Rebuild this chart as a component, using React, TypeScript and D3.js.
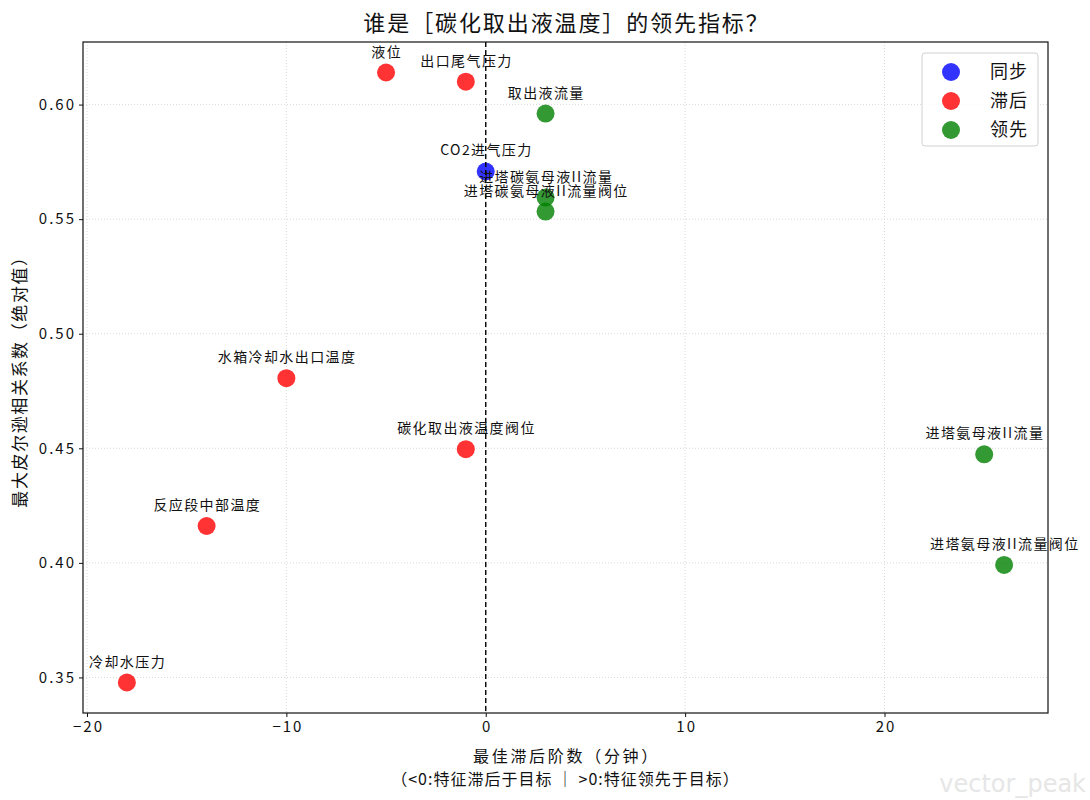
import React, { useEffect, useRef } from 'react';
import * as d3 from 'd3';

const features = [
  '液位',
  '出口尾气压力',
  '取出液流量',
  'CO2进气压力',
  '进塔碳氨母液II流量',
  '进塔碳氨母液II流量阀位',
  '水箱冷却水出口温度',
  '碳化取出液温度阀位',
  '进塔氨母液II流量',
  '反应段中部温度',
  '进塔氨母液II流量阀位',
  '冷却水压力',
];
const bestLags = [-5, -1, 3, 0, 3, 3, -10, -1, 25, -14, 26, -18];
const maxCorr = [0.614, 0.61, 0.5961, 0.5708, 0.5594, 0.5533, 0.4806, 0.4496, 0.4474, 0.4161, 0.3991, 0.3478];

const xTicks = [-20, -10, 0, 10, 20];
const yTicks = [0.35, 0.4, 0.45, 0.5, 0.55, 0.6];

const groups = ['同步', '滞后', '领先'];
const groupColors = ['blue', 'red', 'green'];

const FONT = '"Noto Sans CJK SC", "DejaVu Sans", sans-serif';

const LeadLagScatter = () => {
  const chartRef = useRef(null);

  useEffect(() => {
    const W = 1090;
    const H = 800;
    const plot = { left: 83, right: 1048, top: 42, bottom: 713 };

    d3.select(chartRef.current).selectAll('*').remove();

    const svg = d3
      .select(chartRef.current)
      .append('svg')
      .attr('width', W)
      .attr('height', H)
      .style('position', 'absolute')
      .style('left', 0)
      .style('top', 0)
      .style('background', '#fff')
      .style('font-family', FONT);

    const rows = features.map((name, i) => ({
      name,
      lag: bestLags[i],
      corr: maxCorr[i],
      group: bestLags[i] === 0 ? '同步' : bestLags[i] < 0 ? '滞后' : '领先',
    }));

    // matplotlib-style 5% padding on both axes
    const xExt = d3.extent(bestLags);
    const yExt = d3.extent(maxCorr);
    const xPad = (xExt[1] - xExt[0]) * 0.05;
    const yPad = (yExt[1] - yExt[0]) * 0.05;

    const x = d3
      .scaleLinear()
      .domain([xExt[0] - xPad, xExt[1] + xPad])
      .range([plot.left, plot.right]);
    const y = d3
      .scaleLinear()
      .domain([yExt[0] - yPad, yExt[1] + yPad])
      .range([plot.bottom, plot.top]);
    const color = d3.scaleOrdinal().domain(groups).range(groupColors);

    // grid
    const grid = svg.append('g').attr('stroke', '#d0d0d0').attr('stroke-width', 0.8).attr('stroke-dasharray', '1,2');
    xTicks.forEach(t => {
      grid.append('line').attr('x1', x(t)).attr('x2', x(t)).attr('y1', plot.top).attr('y2', plot.bottom);
    });
    yTicks.forEach(t => {
      grid.append('line').attr('x1', plot.left).attr('x2', plot.right).attr('y1', y(t)).attr('y2', y(t));
    });

    // points
    groups.forEach(g => {
      svg
        .append('g')
        .selectAll('circle')
        .data(rows.filter(d => d.group === g))
        .enter()
        .append('circle')
        .attr('cx', d => x(d.lag))
        .attr('cy', d => y(d.corr))
        .attr('r', 9)
        .attr('fill', color(g))
        .attr('fill-opacity', 0.8);
    });

    // zero-lag reference
    svg
      .append('line')
      .attr('x1', x(0))
      .attr('x2', x(0))
      .attr('y1', plot.top)
      .attr('y2', plot.bottom)
      .attr('stroke', '#000')
      .attr('stroke-width', 1.4)
      .attr('stroke-dasharray', '5,3');

    // point labels
    svg
      .append('g')
      .selectAll('text')
      .data(rows)
      .enter()
      .append('text')
      .attr('x', d => x(d.lag) + 0.7)
      .attr('y', d => y(d.corr) - 16)
      .attr('text-anchor', 'middle')
      .style('font-size', '14px')
      .style('letter-spacing', '1.4px')
      .style('fill', '#111')
      .text(d => d.name);

    // axes
    const xAxis = svg
      .append('g')
      .attr('transform', `translate(0,${plot.bottom})`)
      .call(d3.axisBottom(x).tickValues(xTicks).tickSize(4).tickPadding(4).tickFormat(d3.format('d')));
    const yAxis = svg
      .append('g')
      .attr('transform', `translate(${plot.left},0)`)
      .call(d3.axisLeft(y).tickValues(yTicks).tickSize(4).tickPadding(3).tickFormat(d3.format('.2f')));
    [xAxis, yAxis].forEach(a => {
      a.select('.domain').remove();
      a.selectAll('text')
        .style('font-size', '15px')
        .style('font-family', FONT)
        .style('letter-spacing', '2px')
        .attr('fill', '#111');
      a.selectAll('line').attr('stroke', '#111');
    });
    xAxis.selectAll('text').attr('dx', 1).text(d => String(d).replace('-', '−'));

    svg
      .append('rect')
      .attr('x', plot.left)
      .attr('y', plot.top)
      .attr('width', plot.right - plot.left)
      .attr('height', plot.bottom - plot.top)
      .attr('fill', 'none')
      .attr('stroke', '#111')
      .attr('stroke-width', 1.2);

    // title + axis labels
    const cx = (plot.left + plot.right) / 2;
    svg
      .append('text')
      .attr('x', cx + 1)
      .attr('y', 31)
      .attr('text-anchor', 'middle')
      .style('font-size', '22px')
      .style('letter-spacing', '1.9px')
      .style('fill', '#111')
      .text('谁是［碳化取出液温度］的领先指标？');

    svg
      .append('text')
      .attr('x', cx + 1)
      .attr('y', 762)
      .attr('text-anchor', 'middle')
      .style('font-size', '16px')
      .style('letter-spacing', '2.7px')
      .style('fill', '#111')
      .text('最佳滞后阶数（分钟）');
    svg
      .append('text')
      .attr('x', cx)
      .attr('y', 785)
      .attr('text-anchor', 'middle')
      .style('font-size', '16px')
      .style('letter-spacing', '1px')
      .style('fill', '#111')
      .text('（<0:特征滞后于目标 ｜ >0:特征领先于目标）');

    svg
      .append('text')
      .attr('transform', `translate(26,${(plot.top + plot.bottom) / 2}) rotate(-90)`)
      .attr('text-anchor', 'middle')
      .style('font-size', '17px')
      .style('letter-spacing', '1.6px')
      .style('fill', '#111')
      .text('最大皮尔逊相关系数（绝对值）');

    // legend
    const legend = svg.append('g').attr('transform', 'translate(922,53)');
    legend
      .append('rect')
      .attr('width', 116)
      .attr('height', 93)
      .attr('rx', 3)
      .attr('fill', '#fff')
      .attr('fill-opacity', 0.8)
      .attr('stroke', '#d0d0d0');
    groups.forEach((g, i) => {
      const item = legend.append('g').attr('transform', `translate(0,${19 + i * 29})`);
      item.append('circle').attr('cx', 29).attr('cy', 0).attr('r', 9).attr('fill', color(g)).attr('fill-opacity', 0.8);
      item
        .append('text')
        .attr('x', 68)
        .attr('y', 0)
        .attr('dy', '0.35em')
        .style('font-size', '18px')
        .style('letter-spacing', '1px')
        .style('fill', '#111')
        .text(g);
    });

    svg
      .append('text')
      .attr('x', 1086)
      .attr('y', 792)
      .attr('text-anchor', 'end')
      .style('font-size', '24px')
      .style('font-family', '"DejaVu Sans", sans-serif')
      .style('fill', '#e6e6e6')
      .text('vector_peak');
  }, []);

  return <div ref={chartRef}></div>;
};

export default function App() {
  return <LeadLagScatter />;
}
